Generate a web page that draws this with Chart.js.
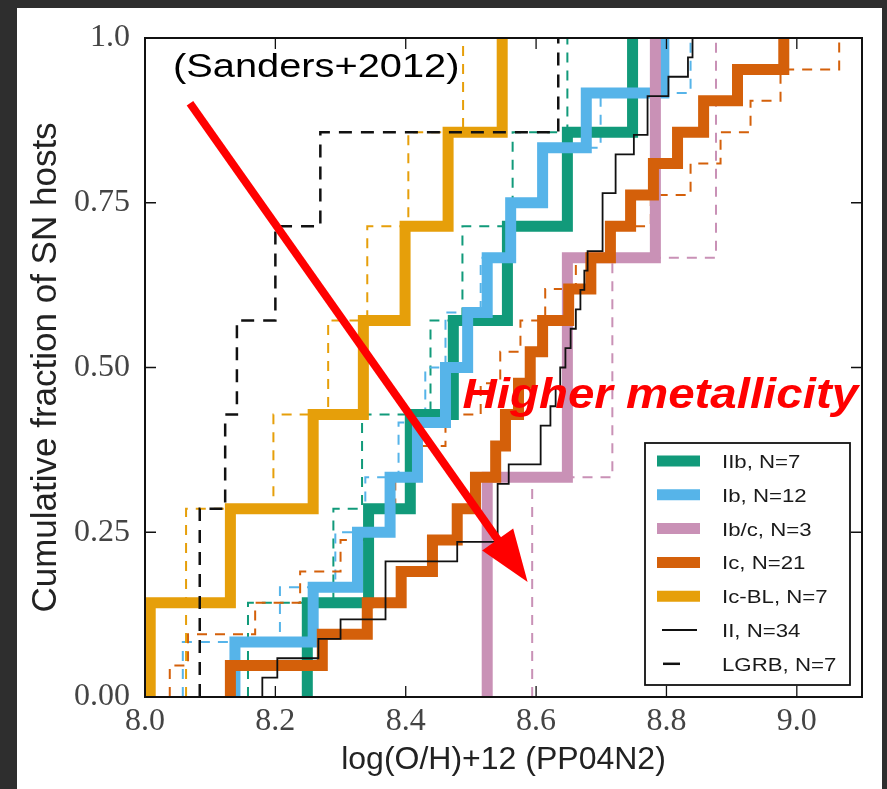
<!DOCTYPE html>
<html>
<head>
<meta charset="utf-8">
<script src="https://cdn.jsdelivr.net/npm/chart.js@4.4.0/dist/chart.umd.min.js"></script>
<style>
  html, body { margin: 0; padding: 0; }
  body { width: 887px; height: 789px; background: #2e2e2e; position: relative; overflow: hidden; }
  #panneau { position: absolute; left: 17px; top: 8px; width: 865px; height: 781px; background: #fff; }
  #graphique { position: absolute; left: 0; top: 0; }
</style>
</head>
<body>
<div id="panneau"></div>
<canvas id="graphique" width="887" height="789"></canvas>
<script>
// metallicite des hotes, log(O/H)+12 (PP04N2), une valeur par SN
const iib = [8.249, 8.343, 8.407, 8.473, 8.556, 8.648, 8.748];
const ib = [8.138, 8.258, 8.326, 8.376, 8.418, 8.461, 8.495, 8.525, 8.561, 8.610, 8.677, 8.796];
const ibc = [8.525, 8.648, 8.783];
const ic = [8.131, 8.272, 8.341, 8.393, 8.441, 8.479, 8.507, 8.538, 8.553, 8.573, 8.591,
            8.610, 8.650, 8.684, 8.714, 8.745, 8.780, 8.817, 8.857, 8.909, 8.980];
const icbl = [8.008, 8.131, 8.258, 8.335, 8.399, 8.465, 8.548];
const ii = [8.180, 8.203, 8.266, 8.300, 8.369, 8.369, 8.369, 8.479, 8.541, 8.541, 8.541, 8.558,
            8.607, 8.607, 8.622, 8.630, 8.637, 8.645, 8.653, 8.661, 8.668, 8.674, 8.679,
            8.702, 8.702, 8.702, 8.722, 8.722, 8.750, 8.771, 8.771, 8.803, 8.833, 8.840];
const lgrb = [8.084, 8.084, 8.123, 8.141, 8.200, 8.269, 8.634];

// distributions en pointilles (autre estimation)
const iibAlt = [8.158, 8.289, 8.333, 8.438, 8.487, 8.564, 8.648];
const ibAlt = [8.058, 8.207, 8.292, 8.338, 8.389, 8.430, 8.461, 8.515, 8.561, 8.607, 8.699, 8.837];
const ibcAlt = [8.594, 8.717, 8.876];
const icAlt = [8.038, 8.066, 8.169, 8.238, 8.300, 8.349, 8.384, 8.422, 8.461, 8.515, 8.545,
               8.576, 8.614, 8.661, 8.714, 8.776, 8.837, 8.883, 8.929, 8.975, 9.065];
const icblAlt = [8.063, 8.063, 8.197, 8.281, 8.341, 8.404, 8.488];

const xTickValues = [8.0, 8.2, 8.4, 8.6, 8.8, 9.0];
const yTickLabels = ["0.00", "0.25", "0.50", "0.75", "1.0"];

const couleurs = {
    iib: "#119a7a",
    ib: "#56b4e9",
    ibc: "#c991b6",
    ic: "#d4600a",
    icbl: "#e69f0a",
    noir: "#111111"
};

// fonction de repartition en escalier
function cumulative(values) {
    const tries = [...values].sort((a, b) => a - b);
    const points = [{x: tries[0], y: 0}];
    tries.forEach((v, i) => points.push({x: v, y: (i + 1) / tries.length}));
    return points;
}

function serie(label, values, color, width, dash, order) {
    return {
        label: label,
        data: cumulative(values),
        borderColor: color,
        borderWidth: width,
        borderDash: dash,
        stepped: true,
        pointRadius: 0,
        fill: false,
        clip: 0,
        order: order
    };
}

// legende : nom, valeurs, couleur, epaisseur, pointilles
const principales = [
    ["IIb", iib, couleurs.iib, 11, []],
    ["Ib", ib, couleurs.ib, 11, []],
    ["Ib/c", ibc, couleurs.ibc, 11, []],
    ["Ic", ic, couleurs.ic, 11, []],
    ["Ic-BL", icbl, couleurs.icbl, 11, []],
    ["II", ii, couleurs.noir, 1.8, []],
    ["LGRB", lgrb, couleurs.noir, 2.5, [13, 9]]
];

const datasets = [];
principales.forEach((p, i) => {
    datasets.push(serie(`${p[0]}, N=${p[1].length}`, p[1], p[2], p[3], p[4], 10 - i));
});
const alternatives = [[iibAlt, couleurs.iib], [ibAlt, couleurs.ib], [ibcAlt, couleurs.ibc],
                      [icAlt, couleurs.ic], [icblAlt, couleurs.icbl]];
alternatives.forEach((a, i) => {
    datasets.push(serie("", a[0], a[1], 2, [10, 8], 30 - i));
});

function texteEtire(ctx, txt, x, y, sx, align) {
    ctx.save();
    ctx.translate(x, y);
    ctx.scale(sx, 1);
    ctx.textAlign = align;
    ctx.textBaseline = "alphabetic";
    ctx.fillText(txt, 0, 0);
    ctx.restore();
}

const decor = {
    id: "decor",
    afterDatasetsDraw(chart) {
        const ctx = chart.ctx;
        const a = chart.chartArea;
        const x = chart.scales.x;
        const y = chart.scales.y;
        ctx.save();

        // graduations vers l'interieur, sur les quatre cotes
        ctx.strokeStyle = "#111";
        ctx.lineWidth = 1.3;
        ctx.beginPath();
        x.ticks.forEach(t => {
            const px = x.getPixelForValue(t.value);
            ctx.moveTo(px, a.bottom); ctx.lineTo(px, a.bottom - 11);
            ctx.moveTo(px, a.top); ctx.lineTo(px, a.top + 11);
        });
        y.ticks.forEach(t => {
            const py = y.getPixelForValue(t.value);
            ctx.moveTo(a.left, py); ctx.lineTo(a.left + 11, py);
            ctx.moveTo(a.right, py); ctx.lineTo(a.right - 11, py);
        });
        ctx.stroke();

        // cadre
        ctx.lineWidth = 2;
        ctx.strokeRect(a.left, a.top, a.right - a.left, a.bottom - a.top);

        // fleche rouge
        const x0 = x.getPixelForValue(8.069), y0 = y.getPixelForValue(0.901);
        const x1 = x.getPixelForValue(8.587), y1 = y.getPixelForValue(0.1745);
        const len = Math.hypot(x1 - x0, y1 - y0);
        const ux = (x1 - x0) / len, uy = (y1 - y0) / len;
        const tete = 52, demi = 19;
        const bx = x1 - ux * tete, by = y1 - uy * tete;
        ctx.strokeStyle = "#ff0000";
        ctx.fillStyle = "#ff0000";
        ctx.lineWidth = 8;
        ctx.beginPath();
        ctx.moveTo(x0, y0);
        ctx.lineTo(bx + ux * 2, by + uy * 2);
        ctx.stroke();
        ctx.beginPath();
        ctx.moveTo(x1, y1);
        ctx.lineTo(bx - uy * demi, by + ux * demi);
        ctx.lineTo(bx + uy * demi, by - ux * demi);
        ctx.closePath();
        ctx.fill();

        // textes
        ctx.fillStyle = "#000";
        ctx.font = "34px 'Liberation Sans'";
        texteEtire(ctx, "(Sanders+2012)", x.getPixelForValue(8.043), y.getPixelForValue(0.9408), 1.17, "left");
        ctx.fillStyle = "#ff0000";
        ctx.font = "italic bold 42px 'Liberation Sans'";
        texteEtire(ctx, "Higher metallicity", x.getPixelForValue(9.094), y.getPixelForValue(0.4385), 1.13, "right");

        // legende
        const box = {left: a.right - 217, top: a.bottom - 254, right: a.right - 12, bottom: a.bottom - 12};
        ctx.fillStyle = "#fff";
        ctx.fillRect(box.left, box.top, box.right - box.left, box.bottom - box.top);
        ctx.strokeStyle = "#111";
        ctx.lineWidth = 1.8;
        ctx.strokeRect(box.left, box.top, box.right - box.left, box.bottom - box.top);
        ctx.font = "19px 'Liberation Sans'";
        principales.forEach((p, i) => {
            const ds = chart.data.datasets[i];
            const ry = box.top + 18 + i * 33.8;
            ctx.strokeStyle = ds.borderColor;
            ctx.lineWidth = ds.borderWidth;
            ctx.beginPath();
            if (p[4].length) {
                ctx.moveTo(box.left + 18, ry); ctx.lineTo(box.left + 35, ry);
            } else if (p[3] < 5) {
                ctx.moveTo(box.left + 17, ry); ctx.lineTo(box.left + 52, ry);
            } else {
                ctx.moveTo(box.left + 12, ry); ctx.lineTo(box.left + 55, ry);
            }
            ctx.stroke();
            ctx.fillStyle = "#1a1a1a";
            texteEtire(ctx, ds.label, box.left + 77, ry + 7, 1.17, "left");
        });

        ctx.restore();
    }
};

const config = {
    type: "line",
    data: { datasets: datasets },
    options: {
        responsive: false,
        animation: false,
        events: [],
        layout: { padding: { left: 17, top: 38, right: 25, bottom: 0 }, autoPadding: false },
        plugins: { legend: { display: false }, tooltip: { enabled: false } },
        scales: {
            x: {
                type: "linear",
                min: 8.0,
                max: 9.1,
                afterFit: s => { s.height = 92; },
                afterBuildTicks: s => { s.ticks = xTickValues.map(v => ({value: v})); },
                grid: { display: false, drawTicks: false },
                border: { display: false },
                ticks: {
                    padding: 5,
                    maxRotation: 0,
                    autoSkip: false,
                    color: "#444",
                    font: { family: "Liberation Serif", size: 32 },
                    callback: v => v.toFixed(1)
                },
                title: {
                    display: true,
                    text: "log(O/H)+12 (PP04N2)",
                    color: "#222",
                    font: { family: "Liberation Sans", size: 32 },
                    padding: { top: 0, bottom: 10 }
                }
            },
            y: {
                type: "linear",
                min: 0,
                max: 1,
                afterFit: s => { s.width = 128; },
                grid: { display: false, drawTicks: false },
                border: { display: false },
                ticks: {
                    stepSize: 0.25,
                    padding: 15,
                    color: "#444",
                    font: { family: "Liberation Serif", size: 32 },
                    callback: (v, i) => yTickLabels[i]
                },
                title: {
                    display: true,
                    text: "Cumulative fraction of SN hosts",
                    color: "#222",
                    font: { family: "Liberation Sans", size: 35 },
                    padding: { top: 8, bottom: 0 }
                }
            }
        }
    },
    plugins: [decor]
};

const graphique = new Chart(document.querySelector("#graphique"), config);
</script>
</body>
</html>
